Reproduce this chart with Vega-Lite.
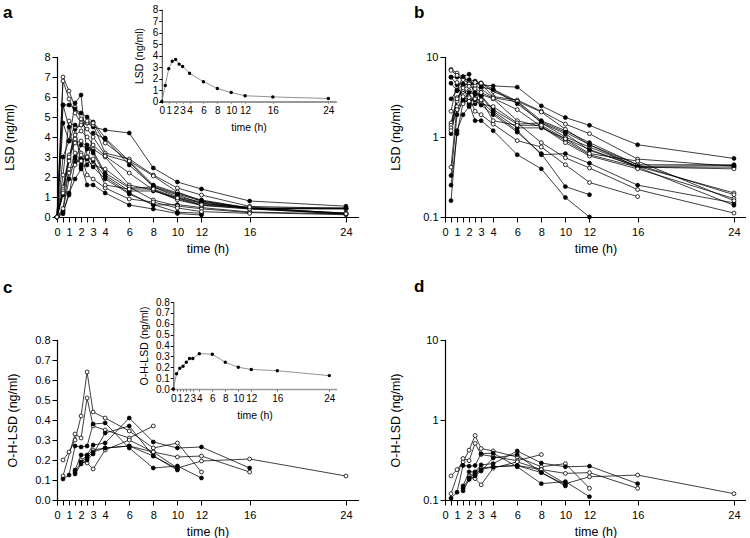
{
"$schema": "https://vega.github.io/schema/vega-lite/v6.json",
"padding": {"left": 3, "top": 3, "right": 0, "bottom": 0},
"autosize": {"type": "pad"},
"columns": 2,
"spacing": {"row": 123, "column": 87},
"bounds": "flush",
"datasets": {
"lsd": [
{"s":1,"g":"f","t":0,"v":0},{"s":1,"g":"f","t":0.5,"v":1.1},{"s":1,"g":"f","t":1,"v":2.9},{"s":1,"g":"f","t":1.5,"v":4.4},{"s":1,"g":"f","t":2,"v":4.6},{"s":1,"g":"f","t":2.5,"v":4.7},{"s":1,"g":"f","t":3,"v":4.5},{"s":1,"g":"f","t":4,"v":4.35},{"s":1,"g":"f","t":6,"v":4.2},{"s":1,"g":"f","t":8,"v":2.45},{"s":1,"g":"f","t":10,"v":1.75},{"s":1,"g":"f","t":12,"v":1.4},{"s":1,"g":"f","t":16,"v":0.8},{"s":1,"g":"f","t":24,"v":0.54},
{"s":2,"g":"o","t":0,"v":0},{"s":2,"g":"o","t":0.5,"v":7.0},{"s":2,"g":"o","t":1,"v":6.3},{"s":2,"g":"o","t":1.5,"v":5.5},{"s":2,"g":"o","t":2,"v":4.9},{"s":2,"g":"o","t":2.5,"v":4.7},{"s":2,"g":"o","t":3,"v":4.6},{"s":2,"g":"o","t":4,"v":3.2},{"s":2,"g":"o","t":6,"v":2.9},{"s":2,"g":"o","t":8,"v":2.1},{"s":2,"g":"o","t":10,"v":1.45},{"s":2,"g":"o","t":12,"v":1.1},{"s":2,"g":"o","t":16,"v":0.53},{"s":2,"g":"o","t":24,"v":0.43},
{"s":3,"g":"f","t":0,"v":0},{"s":3,"g":"f","t":0.5,"v":5.6},{"s":3,"g":"f","t":1,"v":5.6},{"s":3,"g":"f","t":1.5,"v":5.4},{"s":3,"g":"f","t":2,"v":5.2},{"s":3,"g":"f","t":2.5,"v":5.0},{"s":3,"g":"f","t":3,"v":4.75},{"s":3,"g":"f","t":4,"v":3.95},{"s":3,"g":"f","t":6,"v":2.8},{"s":3,"g":"f","t":8,"v":1.6},{"s":3,"g":"f","t":10,"v":1.2},{"s":3,"g":"f","t":12,"v":0.85},{"s":3,"g":"f","t":16,"v":0.45},{"s":3,"g":"f","t":24,"v":0.45},
{"s":4,"g":"o","t":0,"v":0},{"s":4,"g":"o","t":0.5,"v":6.8},{"s":4,"g":"o","t":1,"v":5.9},{"s":4,"g":"o","t":1.5,"v":5.2},{"s":4,"g":"o","t":2,"v":4.7},{"s":4,"g":"o","t":2.5,"v":4.4},{"s":4,"g":"o","t":3,"v":4.0},{"s":4,"g":"o","t":4,"v":3.1},{"s":4,"g":"o","t":6,"v":2.75},{"s":4,"g":"o","t":8,"v":1.5},{"s":4,"g":"o","t":10,"v":1.0},{"s":4,"g":"o","t":12,"v":0.75},{"s":4,"g":"o","t":16,"v":0.43},{"s":4,"g":"o","t":24,"v":0.2},
{"s":5,"g":"f","t":0,"v":0},{"s":5,"g":"f","t":0.5,"v":4.7},{"s":5,"g":"f","t":1,"v":3.8},{"s":5,"g":"f","t":1.5,"v":5.7},{"s":5,"g":"f","t":2,"v":6.1},{"s":5,"g":"f","t":2.5,"v":3.0},{"s":5,"g":"f","t":3,"v":2.8},{"s":5,"g":"f","t":4,"v":2.0},{"s":5,"g":"f","t":6,"v":1.2},{"s":5,"g":"f","t":8,"v":0.6},{"s":5,"g":"f","t":10,"v":0.62},{"s":5,"g":"f","t":12,"v":0.47},{"s":5,"g":"f","t":16,"v":0.25},{"s":5,"g":"f","t":24,"v":0.15},
{"s":6,"g":"f","t":0,"v":0},{"s":6,"g":"f","t":0.5,"v":5.6},{"s":6,"g":"f","t":1,"v":4.5},{"s":6,"g":"f","t":1.5,"v":3.0},{"s":6,"g":"f","t":2,"v":2.6},{"s":6,"g":"f","t":2.5,"v":1.6},{"s":6,"g":"f","t":3,"v":1.6},{"s":6,"g":"f","t":4,"v":1.2},{"s":6,"g":"f","t":6,"v":0.6},{"s":6,"g":"f","t":8,"v":0.4},{"s":6,"g":"f","t":10,"v":0.175},{"s":6,"g":"f","t":12,"v":0.1},
{"s":7,"g":"o","t":0,"v":0},{"s":7,"g":"o","t":0.5,"v":2.1},{"s":7,"g":"o","t":1,"v":4.8},{"s":7,"g":"o","t":1.5,"v":4.5},{"s":7,"g":"o","t":2,"v":4.6},{"s":7,"g":"o","t":2.5,"v":4.8},{"s":7,"g":"o","t":3,"v":4.7},{"s":7,"g":"o","t":4,"v":3.7},{"s":7,"g":"o","t":6,"v":2.8},{"s":7,"g":"o","t":8,"v":2.05},{"s":7,"g":"o","t":10,"v":1.25},{"s":7,"g":"o","t":12,"v":0.8},{"s":7,"g":"o","t":16,"v":0.45},{"s":7,"g":"o","t":24,"v":0.19},
{"s":8,"g":"f","t":0,"v":0},{"s":8,"g":"f","t":0.5,"v":3.0},{"s":8,"g":"f","t":1,"v":3.8},{"s":8,"g":"f","t":1.5,"v":4.6},{"s":8,"g":"f","t":2,"v":2.5},{"s":8,"g":"f","t":2.5,"v":2.6},{"s":8,"g":"f","t":3,"v":4.2},{"s":8,"g":"f","t":4,"v":3.9},{"s":8,"g":"f","t":6,"v":2.6},{"s":8,"g":"f","t":8,"v":1.55},{"s":8,"g":"f","t":10,"v":1.15},{"s":8,"g":"f","t":12,"v":0.8},{"s":8,"g":"f","t":16,"v":0.42},{"s":8,"g":"f","t":24,"v":0.42},
{"s":9,"g":"o","t":0,"v":0},{"s":9,"g":"o","t":0.5,"v":1.5},{"s":9,"g":"o","t":1,"v":3.1},{"s":9,"g":"o","t":1.5,"v":3.7},{"s":9,"g":"o","t":2,"v":3.8},{"s":9,"g":"o","t":2.5,"v":3.5},{"s":9,"g":"o","t":3,"v":3.4},{"s":9,"g":"o","t":4,"v":3.0},{"s":9,"g":"o","t":6,"v":1.6},{"s":9,"g":"o","t":8,"v":1.35},{"s":9,"g":"o","t":10,"v":0.9},{"s":9,"g":"o","t":12,"v":0.6},{"s":9,"g":"o","t":16,"v":0.42},{"s":9,"g":"o","t":24,"v":0.4},
{"s":10,"g":"f","t":0,"v":0},{"s":10,"g":"f","t":0.5,"v":0.33},{"s":10,"g":"f","t":1,"v":1.9},{"s":10,"g":"f","t":1.5,"v":2.9},{"s":10,"g":"f","t":2,"v":3.6},{"s":10,"g":"f","t":2.5,"v":3.4},{"s":10,"g":"f","t":3,"v":3.3},{"s":10,"g":"f","t":4,"v":2.2},{"s":10,"g":"f","t":6,"v":1.45},{"s":10,"g":"f","t":8,"v":1.5},{"s":10,"g":"f","t":10,"v":1.1},{"s":10,"g":"f","t":12,"v":0.68},{"s":10,"g":"f","t":16,"v":0.43},{"s":10,"g":"f","t":24,"v":0.44},
{"s":11,"g":"o","t":0,"v":0},{"s":11,"g":"o","t":0.5,"v":1.4},{"s":11,"g":"o","t":1,"v":2.8},{"s":11,"g":"o","t":1.5,"v":3.9},{"s":11,"g":"o","t":2,"v":3.2},{"s":11,"g":"o","t":2.5,"v":2.8},{"s":11,"g":"o","t":3,"v":2.6},{"s":11,"g":"o","t":4,"v":2.4},{"s":11,"g":"o","t":6,"v":1.5},{"s":11,"g":"o","t":8,"v":0.85},{"s":11,"g":"o","t":10,"v":0.55},{"s":11,"g":"o","t":12,"v":0.41},{"s":11,"g":"o","t":16,"v":0.22},{"s":11,"g":"o","t":24,"v":0.112},
{"s":12,"g":"f","t":0,"v":0},{"s":12,"g":"f","t":0.5,"v":0.25},{"s":12,"g":"f","t":1,"v":1.1},{"s":12,"g":"f","t":1.5,"v":2.7},{"s":12,"g":"f","t":2,"v":2.9},{"s":12,"g":"f","t":2.5,"v":2.9},{"s":12,"g":"f","t":3,"v":2.5},{"s":12,"g":"f","t":4,"v":1.9},{"s":12,"g":"f","t":6,"v":1.15},{"s":12,"g":"f","t":8,"v":0.62},{"s":12,"g":"f","t":10,"v":0.24},{"s":12,"g":"f","t":12,"v":0.19},
{"s":13,"g":"o","t":0,"v":0},{"s":13,"g":"o","t":0.5,"v":0.42},{"s":13,"g":"o","t":1,"v":2.4},{"s":13,"g":"o","t":1.5,"v":2.6},{"s":13,"g":"o","t":2,"v":3.1},{"s":13,"g":"o","t":2.5,"v":2.1},{"s":13,"g":"o","t":3,"v":1.9},{"s":13,"g":"o","t":4,"v":1.45},{"s":13,"g":"o","t":6,"v":0.9},{"s":13,"g":"o","t":8,"v":0.75},{"s":13,"g":"o","t":10,"v":0.45},{"s":13,"g":"o","t":12,"v":0.27},{"s":13,"g":"o","t":16,"v":0.18},
{"s":14,"g":"f","t":0,"v":0},{"s":14,"g":"f","t":0.5,"v":0.16},{"s":14,"g":"f","t":1,"v":1.2},{"s":14,"g":"f","t":1.5,"v":1.9},{"s":14,"g":"f","t":2,"v":2.4},{"s":14,"g":"f","t":2.5,"v":3.6},{"s":14,"g":"f","t":3,"v":3.2},{"s":14,"g":"f","t":4,"v":2.1},{"s":14,"g":"f","t":6,"v":1.3},{"s":14,"g":"f","t":8,"v":1.3},{"s":14,"g":"f","t":10,"v":0.95},{"s":14,"g":"f","t":12,"v":0.7},{"s":14,"g":"f","t":16,"v":0.42},{"s":14,"g":"f","t":24,"v":0.14},
{"s":15,"g":"o","t":0,"v":0},{"s":15,"g":"o","t":0.5,"v":1.3},{"s":15,"g":"o","t":1,"v":3.0},{"s":15,"g":"o","t":1.5,"v":4.1},{"s":15,"g":"o","t":2,"v":4.3},{"s":15,"g":"o","t":2.5,"v":4.0},{"s":15,"g":"o","t":3,"v":3.6},{"s":15,"g":"o","t":4,"v":3.05},{"s":15,"g":"o","t":6,"v":2.2},{"s":15,"g":"o","t":8,"v":1.35},{"s":15,"g":"o","t":10,"v":0.85},{"s":15,"g":"o","t":12,"v":0.58},{"s":15,"g":"o","t":16,"v":0.4},{"s":15,"g":"o","t":24,"v":0.17},
{"s":16,"g":"o","t":0,"v":0},{"s":16,"g":"o","t":0.5,"v":1.2},{"s":16,"g":"o","t":1,"v":2.2},{"s":16,"g":"o","t":1.5,"v":3.2},{"s":16,"g":"o","t":2,"v":2.8},{"s":16,"g":"o","t":2.5,"v":3.0},{"s":16,"g":"o","t":3,"v":2.9},{"s":16,"g":"o","t":4,"v":1.6},{"s":16,"g":"o","t":6,"v":1.4},{"s":16,"g":"o","t":8,"v":1.4},{"s":16,"g":"o","t":10,"v":0.95},{"s":16,"g":"o","t":12,"v":0.62},{"s":16,"g":"o","t":16,"v":0.5},{"s":16,"g":"o","t":24,"v":0.16}
],
"ohl": [
{"s":1,"g":"o","t":0.5,"v":0.2},{"s":1,"g":"o","t":1,"v":0.24},{"s":1,"g":"o","t":1.5,"v":0.3},{"s":1,"g":"o","t":2,"v":0.42},{"s":1,"g":"o","t":2.5,"v":0.64},{"s":1,"g":"o","t":3,"v":0.44},{"s":1,"g":"o","t":4,"v":0.41},{"s":1,"g":"o","t":6,"v":0.345},{"s":1,"g":"o","t":8,"v":0.26},{"s":1,"g":"o","t":10,"v":0.285},{"s":1,"g":"o","t":12,"v":0.14},
{"s":2,"g":"o","t":0.5,"v":0.12},{"s":2,"g":"o","t":1.5,"v":0.33},{"s":2,"g":"o","t":2,"v":0.31},{"s":2,"g":"o","t":2.5,"v":0.51},{"s":2,"g":"o","t":3,"v":0.37},{"s":2,"g":"o","t":4,"v":0.35},{"s":2,"g":"o","t":6,"v":0.31},{"s":2,"g":"o","t":8,"v":0.37},
{"s":3,"g":"o","t":2,"v":0.19},{"s":3,"g":"o","t":2.5,"v":0.185},{"s":3,"g":"o","t":3,"v":0.155},{"s":3,"g":"o","t":4,"v":0.25},{"s":3,"g":"o","t":6,"v":0.3},{"s":3,"g":"o","t":8,"v":0.24},{"s":3,"g":"o","t":10,"v":0.215},{"s":3,"g":"o","t":12,"v":0.22},{"s":3,"g":"o","t":16,"v":0.14},
{"s":4,"g":"o","t":2,"v":0.2},{"s":4,"g":"o","t":2.5,"v":0.22},{"s":4,"g":"o","t":3,"v":0.25},{"s":4,"g":"o","t":4,"v":0.26},{"s":4,"g":"o","t":6,"v":0.27},{"s":4,"g":"o","t":8,"v":0.24},{"s":4,"g":"o","t":10,"v":0.16},{"s":4,"g":"o","t":12,"v":0.195},{"s":4,"g":"o","t":16,"v":0.205},{"s":4,"g":"o","t":24,"v":0.12},
{"s":5,"g":"f","t":0.5,"v":0.105},{"s":5,"g":"f","t":1,"v":0.125},{"s":5,"g":"f","t":1.5,"v":0.27},{"s":5,"g":"f","t":2,"v":0.265},{"s":5,"g":"f","t":2.5,"v":0.27},{"s":5,"g":"f","t":3,"v":0.38},{"s":5,"g":"f","t":4,"v":0.385},{"s":5,"g":"f","t":6,"v":0.26},{"s":5,"g":"f","t":8,"v":0.16},{"s":5,"g":"f","t":10,"v":0.17},{"s":5,"g":"f","t":12,"v":0.11},
{"s":6,"g":"f","t":1.5,"v":0.15},{"s":6,"g":"f","t":2,"v":0.225},{"s":6,"g":"f","t":2.5,"v":0.225},{"s":6,"g":"f","t":3,"v":0.275},{"s":6,"g":"f","t":4,"v":0.285},{"s":6,"g":"f","t":6,"v":0.41},{"s":6,"g":"f","t":8,"v":0.29},{"s":6,"g":"f","t":10,"v":0.26},{"s":6,"g":"f","t":12,"v":0.265},{"s":6,"g":"f","t":16,"v":0.16},
{"s":7,"g":"f","t":1.5,"v":0.13},{"s":7,"g":"f","t":2,"v":0.18},{"s":7,"g":"f","t":2.5,"v":0.2},{"s":7,"g":"f","t":3,"v":0.23},{"s":7,"g":"f","t":4,"v":0.335},{"s":7,"g":"f","t":6,"v":0.37},{"s":7,"g":"f","t":8,"v":0.22},{"s":7,"g":"f","t":10,"v":0.15},
{"s":8,"g":"f","t":1.5,"v":0.14},{"s":8,"g":"f","t":2,"v":0.19},{"s":8,"g":"f","t":2.5,"v":0.21},{"s":8,"g":"f","t":3,"v":0.24},{"s":8,"g":"f","t":4,"v":0.26},{"s":8,"g":"f","t":6,"v":0.27},{"s":8,"g":"f","t":8,"v":0.22},{"s":8,"g":"f","t":10,"v":0.155}
],
"meanA": [
{"t":0,"v":0},{"t":0.5,"v":1.4},{"t":1,"v":2.85},{"t":1.5,"v":3.5},{"t":2,"v":3.65},{"t":2.5,"v":3.25},{"t":3,"v":3.05},{"t":4,"v":2.45},{"t":6,"v":1.72},{"t":8,"v":1.13},{"t":10,"v":0.78},{"t":12,"v":0.5},{"t":16,"v":0.4},{"t":24,"v":0.26}
],
"meanC": [
{"t":0,"v":0},{"t":0.5,"v":0.14},{"t":1,"v":0.19},{"t":1.5,"v":0.21},{"t":2,"v":0.245},{"t":2.5,"v":0.28},{"t":3,"v":0.28},{"t":4,"v":0.325},{"t":6,"v":0.32},{"t":8,"v":0.245},{"t":10,"v":0.2},{"t":12,"v":0.18},{"t":16,"v":0.168},{"t":24,"v":0.123}
]
},
"concat": [
{
"width": 301, "height": 160,
"title": {"text": "a", "anchor": "start", "frame": "group", "dx": -54, "dy": 21, "fontSize": 17, "fontWeight": "bold"},
"layer": [
{"data": {"name": "lsd"},
 "encoding": {
  "x": {"field": "t", "type": "quantitative", "scale": {"domain": [0, 25], "nice": false}, "axis": {"title": "time (h)", "values": [0,0.5,1,1.5,2,2.5,3,4,6,8,10,12,16,24], "labelExpr": "datum.value % 1 == 0 ? datum.label : ''", "labelOverlap": false, "labelFlush": false, "labelPadding": 4, "titlePadding": 5}},
  "y": {"field": "v", "type": "quantitative", "scale": {"domain": [0, 8], "nice": false}, "axis": {"title": "LSD (ng/ml)", "values": [0,1,2,3,4,5,6,7,8], "titlePadding": 27, "labelPadding": 2}}
 },
 "layer": [
  {"mark": {"type": "line", "color": "black", "strokeWidth": 0.75}, "encoding": {"detail": {"field": "s"}}},
  {"mark": {"type": "point", "filled": true, "stroke": "black", "strokeWidth": 0.8, "size": 15, "opacity": 1}, "encoding": {"fill": {"field": "g", "type": "nominal", "scale": {"domain": ["f", "o"], "range": ["black", "white"]}, "legend": null}}}
 ]},
{"data": {"name": "meanA"},
 "encoding": {
  "x": {"field": "t", "type": "quantitative", "scale": {"domain": [0, 25], "nice": false, "range": [104.8, 278.3]}, "axis": {"orient": "bottom", "offset": -115.5, "title": "time (h)", "values": [0,1,2,3,4,6,8,10,12,16,24], "labelOverlap": false, "labelFlush": false, "tickSize": 2, "labelFontSize": 10, "titleFontSize": 10.5, "labelPadding": 2, "titlePadding": 7, "domainColor": "#999", "domainWidth": 2, "tickColor": "#999"}},
  "y": {"field": "v", "type": "quantitative", "scale": {"domain": [0, 8], "nice": false, "range": [44.5, -47.5]}, "axis": {"orient": "left", "offset": -104.8, "title": "LSD (ng/ml)", "values": [0,1,2,3,4,5,6,7,8], "tickSize": 3, "labelFontSize": 10, "titleFontSize": 10.5, "labelPadding": 1, "titlePadding": 8, "domainWidth": 1, "domainColor": "#333"}}
 },
 "layer": [
  {"mark": {"type": "line", "color": "#777", "strokeWidth": 0.8}, "encoding": {}},
  {"mark": {"type": "point", "filled": true, "color": "black", "size": 12, "opacity": 1}}
 ]}
],
"resolve": {"scale": {"x": "independent", "y": "independent"}}
},
{
"width": 301, "height": 160,
"title": {"text": "b", "anchor": "start", "frame": "group", "dx": -31, "dy": -25, "fontSize": 17, "fontWeight": "bold"},
"data": {"name": "lsd"},
"transform": [{"filter": "datum.v > 0"}],
"encoding": {
  "x": {"field": "t", "type": "quantitative", "scale": {"domain": [0, 25], "nice": false}, "axis": {"title": "time (h)", "values": [0,0.5,1,1.5,2,2.5,3,4,6,8,10,12,16,24], "labelExpr": "datum.value % 1 == 0 ? datum.label : ''", "labelOverlap": false, "labelFlush": false, "labelPadding": 4, "titlePadding": 5}},
  "y": {"field": "v", "type": "quantitative", "scale": {"type": "log", "domain": [0.1, 10], "nice": false}, "axis": {"title": "LSD (ng/ml)", "values": [0.1, 1, 10], "format": "~g", "titlePadding": 20, "labelPadding": 2}}
},
"layer": [
  {"mark": {"type": "line", "color": "black", "strokeWidth": 0.75}, "encoding": {"detail": {"field": "s"}}},
  {"mark": {"type": "point", "filled": true, "stroke": "black", "strokeWidth": 0.8, "size": 15, "opacity": 1}, "encoding": {"fill": {"field": "g", "type": "nominal", "scale": {"domain": ["f", "o"], "range": ["black", "white"]}, "legend": null}}}
]
},
{
"width": 301, "height": 160,
"title": {"text": "c", "anchor": "start", "frame": "group", "dx": -54, "dy": 4, "fontSize": 17, "fontWeight": "bold"},
"layer": [
{"data": {"name": "ohl"},
 "encoding": {
  "x": {"field": "t", "type": "quantitative", "scale": {"domain": [0, 25], "nice": false}, "axis": {"title": "time (h)", "values": [0,0.5,1,1.5,2,2.5,3,4,6,8,10,12,16,24], "labelExpr": "datum.value % 1 == 0 ? datum.label : ''", "labelOverlap": false, "labelFlush": false, "labelPadding": 4, "titlePadding": 5}},
  "y": {"field": "v", "type": "quantitative", "scale": {"domain": [0, 0.8], "nice": false}, "axis": {"title": "O-H-LSD (ng/ml)", "values": [0,0.1,0.2,0.3,0.4,0.5,0.6,0.7,0.8], "format": ".1f", "titlePadding": 15, "labelPadding": 2}}
 },
 "layer": [
  {"mark": {"type": "line", "color": "black", "strokeWidth": 0.75}, "encoding": {"detail": {"field": "s"}}},
  {"mark": {"type": "point", "filled": true, "stroke": "black", "strokeWidth": 0.8, "size": 15, "opacity": 1}, "encoding": {"fill": {"field": "g", "type": "nominal", "scale": {"domain": ["f", "o"], "range": ["black", "white"]}, "legend": null}}}
 ]},
{"data": {"name": "meanC"},
 "encoding": {
  "x": {"field": "t", "type": "quantitative", "scale": {"domain": [0, 25], "nice": false, "range": [116.3, 278.8]}, "axis": {"orient": "bottom", "offset": -111, "title": "time (h)", "values": [0,0.5,1,1.5,2,2.5,3,4,6,8,10,12,16,24], "labelExpr": "datum.value % 1 == 0 ? datum.label : ''", "labelOverlap": false, "labelFlush": false, "tickSize": 2, "labelFontSize": 10, "titleFontSize": 10.5, "labelPadding": 2, "titlePadding": 7, "domainColor": "#999", "domainWidth": 1.5, "tickColor": "#555"}},
  "y": {"field": "v", "type": "quantitative", "scale": {"domain": [0, 0.8], "nice": false, "range": [49, -38]}, "axis": {"orient": "left", "offset": -116.3, "title": "O-H-LSD (ng/ml)", "values": [0,0.1,0.2,0.3,0.4,0.5,0.6,0.7,0.8], "format": ".1f", "tickSize": 3, "labelFontSize": 10, "titleFontSize": 10.5, "labelPadding": 1, "titlePadding": 6, "domainWidth": 1, "domainColor": "#333"}}
 },
 "layer": [
  {"mark": {"type": "line", "color": "#777", "strokeWidth": 0.8}, "encoding": {}},
  {"mark": {"type": "point", "filled": true, "color": "black", "size": 12, "opacity": 1}}
 ]}
],
"resolve": {"scale": {"x": "independent", "y": "independent"}}
},
{
"width": 301, "height": 160,
"title": {"text": "d", "anchor": "start", "frame": "group", "dx": -31, "dy": -34, "fontSize": 17, "fontWeight": "bold"},
"data": {"name": "ohl"},
"transform": [{"filter": "datum.v > 0"}],
"encoding": {
  "x": {"field": "t", "type": "quantitative", "scale": {"domain": [0, 25], "nice": false}, "axis": {"title": "time (h)", "values": [0,0.5,1,1.5,2,2.5,3,4,6,8,10,12,16,24], "labelExpr": "datum.value % 1 == 0 ? datum.label : ''", "labelOverlap": false, "labelFlush": false, "labelPadding": 4, "titlePadding": 5}},
  "y": {"field": "v", "type": "quantitative", "scale": {"type": "log", "domain": [0.1, 10], "nice": false}, "axis": {"title": "O-H-LSD (ng/ml)", "values": [0.1, 1, 10], "format": "~g", "titlePadding": 20, "labelPadding": 2}}
},
"layer": [
  {"mark": {"type": "line", "color": "black", "strokeWidth": 0.75}, "encoding": {"detail": {"field": "s"}}},
  {"mark": {"type": "point", "filled": true, "stroke": "black", "strokeWidth": 0.8, "size": 15, "opacity": 1}, "encoding": {"fill": {"field": "g", "type": "nominal", "scale": {"domain": ["f", "o"], "range": ["black", "white"]}, "legend": null}}}
]
}
],
"config": {
  "font": "Liberation Sans",
  "view": {"stroke": null},
  "title": {"font": "Liberation Sans", "color": "black"},
  "axis": {"grid": false, "domainColor": "black", "tickColor": "black", "labelColor": "black", "titleColor": "black", "labelFont": "Liberation Sans", "titleFont": "Liberation Sans", "titleFontWeight": "normal", "labelFontSize": 11, "titleFontSize": 12.5, "tickSize": 5, "domainWidth": 1.2, "tickWidth": 1, "domainCap": "square"}
}
}
